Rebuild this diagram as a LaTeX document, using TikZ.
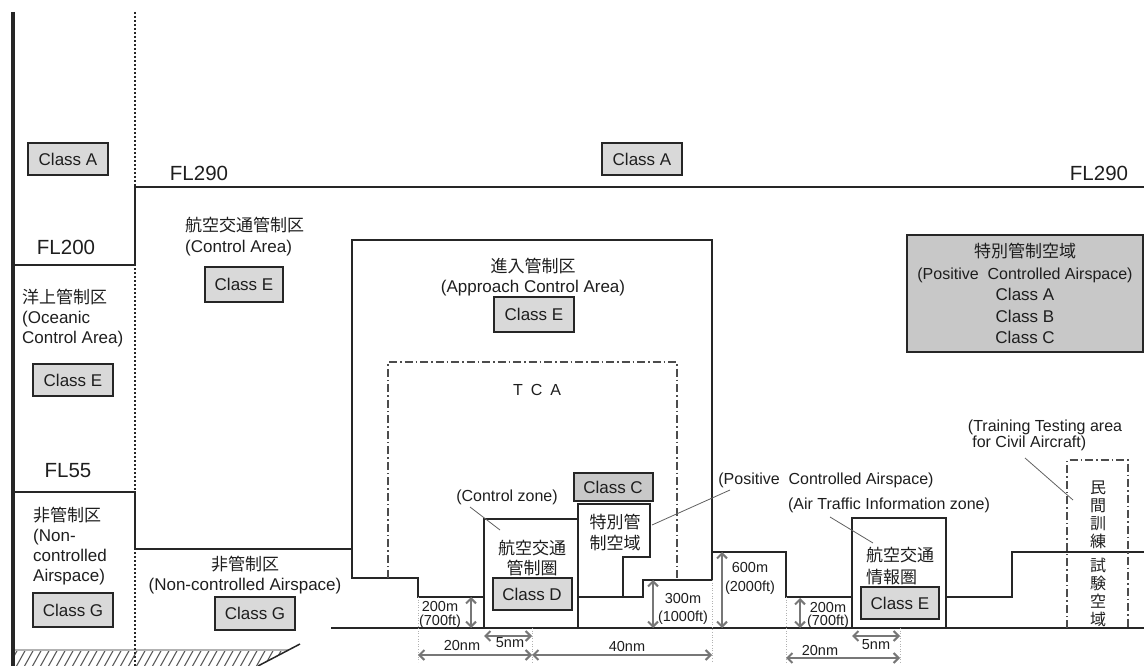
\documentclass[tikz,border=0pt]{standalone}
\usepackage{fontspec}
\setmainfont{Liberation Sans}
\newfontfamily\jp{Noto Sans CJK JP}
\usetikzlibrary{arrows.meta}
\definecolor{lc}{HTML}{262626}
\definecolor{tc}{HTML}{1E1E1E}
\definecolor{boxg}{HTML}{D9D9D9}
\definecolor{boxd}{HTML}{C8C8C8}
\definecolor{dc}{HTML}{777777}
\newcommand\fmain{\fontsize{17}{20}\selectfont}
\newcommand\fsm{\fontsize{16}{17}\selectfont}
\newcommand\fdim{\fontsize{14.5}{15}\selectfont}
\begin{document}
\begin{tikzpicture}[x=1pt,y=-1pt,
  bnd/.style={draw=lc, line width=2.3pt, line join=miter},
  cls/.style={draw=lc, line width=2pt, fill=boxg, minimum width=80pt, minimum height=32pt, inner sep=0pt, font=\fmain, text=tc},
  txt/.style={inner sep=0pt, font=\fmain, text=tc, align=center},
  flt/.style={inner sep=0pt, font=\fontsize{20.5}{22}\selectfont, text=tc},
  smt/.style={inner sep=0pt, font=\fsm, text=tc, align=center},
  dimt/.style={inner sep=0pt, font=\fdim, text=tc, align=center},
  dimarr/.style={draw=dc, line width=2pt, {Straight Barb[length=5pt,width=10pt]}-{Straight Barb[length=5pt,width=10pt]}},
  guide/.style={draw=gray!60, line width=0.6pt, dotted},
  leader/.style={draw=gray!75!black, line width=0.8pt},
  dd/.style={draw=gray!60!black, line width=1.1pt, dash pattern=on 8pt off 3pt on 1.5pt off 3pt}
]
\useasboundingbox (0,0) rectangle (1144,666);

% hatch band (ground, left)
\begin{scope}
  \clip (13,650) -- (289,650) -- (258,666) -- (13,666) -- cycle;
  \foreach \i in {0,8,...,300} { \draw[gray!70!black, line width=1.1pt] (\i,667) -- (\i+10,649); }
\end{scope}
\draw[gray!60, line width=1.5pt] (13,650) -- (289,650);
\draw[lc, line width=1.5pt] (258,666) -- (300,644);

% left verticals
\draw[lc, line width=3.5pt] (13,12) -- (13,666);
\draw[lc, line width=2pt, dash pattern=on 2pt off 2pt] (135,12) -- (135,666);

% flight level boundaries
\draw[bnd] (13,265) -- (135,265) -- (135,187) -- (1144,187);
\draw[bnd] (13,492) -- (135,492) -- (135,549) -- (352,549);

% approach control area
\draw[bnd] (484,597) -- (418,597) -- (418,578) -- (352,578) -- (352,240) -- (712,240) -- (712,580) -- (643,580) -- (643,597) -- (578,597);
% control zone
\draw[bnd] (484,628) -- (484,519) -- (578,519) -- (578,628);
% positive controlled airspace column
\draw[bnd] (578,519) -- (578,504) -- (650,504) -- (650,557) -- (623,557) -- (623,597);
% right side
\draw[bnd] (712,552) -- (786,552) -- (786,597) -- (852,597);
\draw[bnd] (852,628) -- (852,518) -- (946,518) -- (946,628);
\draw[bnd] (946,597) -- (1012,597) -- (1012,552) -- (1144,552);
% ground
\draw[bnd] (331,628) -- (1144,628);

% TCA and training area (dash-dot)
\draw[dd] (388,578) -- (388,362) -- (677,362) -- (677,580);
\draw[dd] (1067,628) -- (1067,460) -- (1128,460) -- (1128,628);

% guides
\draw[guide] (418,597) -- (418,662);
\draw[guide] (532,628) -- (532,662);
\draw[guide] (712,580) -- (712,662);
\draw[guide] (786,597) -- (786,664);
\draw[guide] (900,628) -- (900,664);

% class boxes
\node[cls] (clA1) at (68,159) {Class A};
\node[cls] (clA2) at (642,159) {Class A};
\node[cls, minimum width=78pt, minimum height=35pt] (clEca) at (244,284) {Class E};
\node[cls] (clEoc) at (73,380) {Class E};
\node[cls, minimum height=34pt] (clGl) at (73,610) {Class G};
\node[cls, minimum height=33pt] (clGc) at (255,613) {Class G};
\node[cls, minimum height=35pt] (clEap) at (534,314) {Class E};
\node[cls, fill=boxd, minimum width=79pt, minimum height=28pt] (clC) at (613,487) {Class C};
\node[cls, minimum width=79pt] (clD) at (532,594) {Class D};
\node[cls, minimum width=78pt] (clEat) at (900,603) {Class E};
\node[cls, fill=boxd, minimum width=236pt, minimum height=117pt, align=center, font=\fontsize{17}{21.5}\selectfont] (pca) at (1025,293.5)
  {{\jp 特別管制空域}\\{\fsm (Positive\ \ Controlled Airspace)}\\Class A\\Class B\\Class C};

% flight level labels
\node[flt] (fl290a) at (199,173) {FL290};
\node[flt] (fl290b) at (1099,173) {FL290};
\node[flt] (fl200) at (66,247) {FL200};
\node[flt] (fl55) at (68,471) {FL55};

% area labels
\node[txt, anchor=west, align=left] (oca) at (22,318) {{\jp 洋上管制区}\\(Oceanic\\Control Area)};
\node[txt, anchor=west, align=left, font=\fontsize{17}{21}\selectfont] (ca) at (185,236.5) {{\jp 航空交通管制区}\\(Control Area)};
\node[txt, anchor=west, align=left] (ncl) at (33,546.5) {{\jp 非管制区}\\(Non-\\controlled\\Airspace)};
\node[txt] (ncc) at (245,575) {{\jp 非管制区}\\(Non-controlled Airspace)};
\node[txt] (apc) at (533,277) {{\jp 進入管制区}\\(Approach Control Area)};
\node[txt, font=\fontsize{16}{17}\selectfont] (tca) at (537,390) {T\hspace{0.5em}C\hspace{0.5em}A};
\node[txt, font=\jp\fontsize{17}{21}\selectfont] (pcaj) at (615,532.5) {特別管\\制空域};
\node[txt, font=\jp\fontsize{17}{20}\selectfont] (czj) at (532,558) {航空交通\\管制圏};
\node[txt, font=\jp\fontsize{17}{22}\selectfont, anchor=west, align=left] (atj) at (866,566) {航空交通\\情報圏};
\node[smt] (czl) at (507,497) {(Control zone)};
\node[smt] (pcal) at (826,480) {(Positive\ \ Controlled Airspace)};
\node[smt] (atl) at (889,505) {(Air Traffic Information zone)};
\node[smt, align=left, font=\fontsize{16}{16}\selectfont] (trl) at (1045,435) {(Training Testing area\\\ for Civil Aircraft)};
\node[txt, font=\jp\fontsize{16}{18}\selectfont] (trj1) at (1098,515) {民\\間\\訓\\練};
\node[txt, font=\jp\fontsize{16}{18}\selectfont] (trj2) at (1098,592) {試\\験\\空\\域};

% leader lines
\coordinate (czp) at (500,530);
\coordinate (pcap) at (652,525);
\coordinate (atp) at (873,543);
\coordinate (trp) at (1073,500);
\draw[leader] (470,507) -- (czp);
\draw[leader] (730,490) -- (pcap);
\draw[leader] (830,517) -- (atp);
\draw[leader] (1025,458) -- (trp);

% dimension arrows
\coordinate (v1t) at (471,597); \coordinate (v1b) at (471,628);
\coordinate (v2t) at (653,580); \coordinate (v2b) at (653,628);
\coordinate (v3t) at (722,552); \coordinate (v3b) at (722,628);
\coordinate (v4t) at (800,598); \coordinate (v4b) at (800,628);
\coordinate (h1a) at (418,655); \coordinate (h1b) at (532,655);
\coordinate (h2a) at (484,636); \coordinate (h2b) at (532,636);
\coordinate (h3a) at (532,655); \coordinate (h3b) at (712,655);
\coordinate (h4a) at (786,658); \coordinate (h4b) at (900,658);
\coordinate (h5a) at (852,636); \coordinate (h5b) at (900,636);
\draw[dimarr] (v1t) -- (v1b);
\draw[dimarr] (v2t) -- (v2b);
\draw[dimarr] (v3t) -- (v3b);
\draw[dimarr] (v4t) -- (v4b);
\draw[dimarr] (h1a) -- (h1b);
\draw[dimarr] (h2a) -- (h2b);
\draw[dimarr] (h3a) -- (h3b);
\draw[dimarr] (h4a) -- (h4b);
\draw[dimarr] (h5a) -- (h5b);

\node[dimt, font=\fontsize{14.5}{14}\selectfont] (d1) at (440,615) {200m\\(700ft)};
\node[dimt, font=\fontsize{14.5}{18}\selectfont] (d2) at (683,609) {300m\\(1000ft)};
\node[dimt, font=\fontsize{14.5}{19}\selectfont] (d3) at (750,578) {600m\\(2000ft)};
\node[dimt, font=\fontsize{14.5}{13}\selectfont] (d4) at (828,615.5) {200m\\(700ft)};
\node[dimt] (n1) at (462,646) {20nm};
\node[dimt] (n2) at (510,643) {5nm};
\node[dimt] (n3) at (627,647) {40nm};
\node[dimt] (n4) at (820,651) {20nm};
\node[dimt] (n5) at (876,645) {5nm};
\end{tikzpicture}
\end{document}
